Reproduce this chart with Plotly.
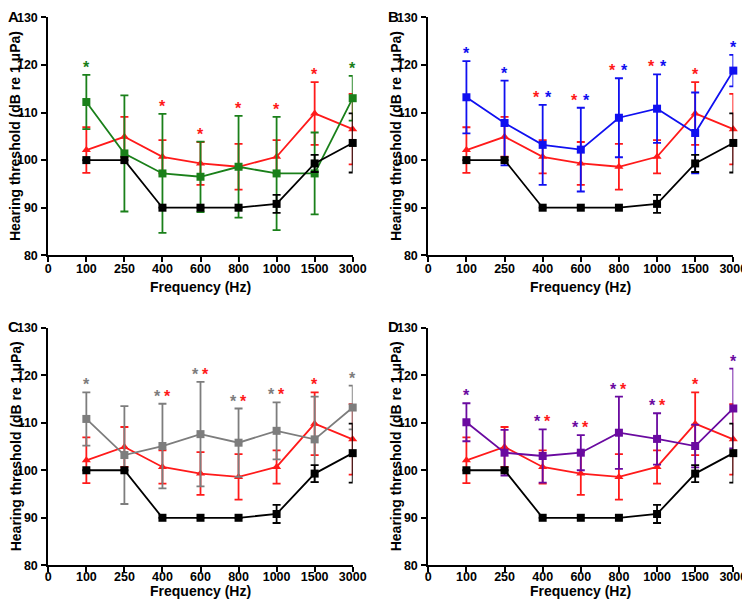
import plotly.graph_objects as go

# ---------------- data ----------------
freq_labels = ["0", "100", "250", "400", "600", "800", "1000", "1500", "3000"]
freq_pos = [1, 2, 3, 4, 5, 6, 7, 8]

control_mean = [100.0, 100.0, 90.0, 90.0, 90.0, 90.8, 99.3, 103.6]
control_err = [0, 0, 0, 0, 0, 1.9, 1.8, 6.2]

red_mean = [102.1, 104.9, 100.7, 99.3, 98.6, 100.7, 109.8, 106.5]
red_err = [4.8, 4.2, 3.5, 4.5, 4.8, 3.5, 6.6, 7.4]

green_mean = [112.2, 101.4, 97.2, 96.5, 98.6, 97.2, 97.2, 113.0]
green_err = [5.7, 12.2, 12.5, 7.4, 10.7, 11.9, 8.6, 4.7]

blue_mean = [113.2, 107.8, 103.2, 102.2, 108.9, 110.8, 105.7, 118.8]
blue_err = [7.6, 8.9, 8.4, 8.8, 8.3, 7.2, 8.5, 3.3]

gray_mean = [110.8, 103.2, 105.1, 107.6, 105.8, 108.3, 106.5, 113.2]
gray_err = [5.6, 10.3, 8.9, 11.0, 7.2, 6.0, 9.0, 4.6]

purple_mean = [110.1, 103.7, 103.0, 103.7, 107.9, 106.6, 105.1, 113.0]
purple_err = [4.0, 4.8, 5.6, 3.7, 7.6, 5.4, 4.5, 8.4]

red_sig = [0, 0, 1, 1, 1, 1, 1, 0]
green_sig = [1, 0, 0, 0, 0, 0, 0, 1]
blue_sig = [1, 1, 1, 1, 1, 1, 0, 1]
gray_sig = [1, 0, 1, 1, 1, 1, 0, 1]
purple_sig = [1, 0, 1, 1, 1, 1, 0, 1]

y_ticks = [80, 90, 100, 110, 120, 130]

# ---------------- styles ----------------
FONT = "Arial, Liberation Sans, sans-serif"
C_BLACK = "#000000"
C_RED = "#ff1a1a"
C_GREEN = "#1a801a"
C_BLUE = "#1010f0"
C_GRAY = "#7d7d7d"
C_PURPLE = "#6a0aa0"

panels = [
    dict(letter="A", mean=green_mean, err=green_err, sig=green_sig, color=C_GREEN, red_first=False),
    dict(letter="B", mean=blue_mean, err=blue_err, sig=blue_sig, color=C_BLUE, red_first=True),
    dict(letter="C", mean=gray_mean, err=gray_err, sig=gray_sig, color=C_GRAY, red_first=False),
    dict(letter="D", mean=purple_mean, err=purple_err, sig=purple_sig, color=C_PURPLE, red_first=False),
]

W, H = 750, 606
xdoms = [(40.3, 344.7), (420.3, 725.3)]
ydoms = [(9.3, 247.3), (319.7, 557.3)]
xtitle_gap = [32, 26]
xlabel_standoff = [-4, -6]

fig = go.Figure()
annotations = []


def series(xa, ya, mean, err, color, symbol, size):
    return go.Scatter(
        x=freq_pos, y=mean, xaxis=xa, yaxis=ya, mode="lines+markers",
        line=dict(color=color, width=1.8),
        marker=dict(symbol=symbol, size=size, color=color, line=dict(width=0)),
        error_y=dict(type="data", array=err, visible=True, color=color,
                     thickness=1.8, width=4),
        cliponaxis=False, showlegend=False, hoverinfo="skip",
    )


for i, p in enumerate(panels):
    col, row = i % 2, i // 2
    n = "" if i == 0 else str(i + 1)
    xa, ya = "x" + n, "y" + n
    x0, x1 = xdoms[col]
    yt, yb = ydoms[row]

    fig.add_trace(series(xa, ya, red_mean, red_err, C_RED, "triangle-up", 8))
    fig.add_trace(series(xa, ya, p["mean"], p["err"], p["color"], "square", 8))
    fig.add_trace(series(xa, ya, control_mean, control_err, C_BLACK, "square", 8))

    axis_common = dict(
        showline=True, linecolor="black", linewidth=2, ticks="outside",
        ticklen=5, tickwidth=2, tickcolor="black", showgrid=False,
        zeroline=False, automargin=False,
        tickfont=dict(family=FONT, size=12.5, color="black", weight="bold"),
    )
    fig.update_layout({
        "xaxis" + n: dict(domain=[x0 / W, x1 / W], anchor=ya, range=[0, 8],
                          tickmode="array", tickvals=list(range(9)), ticktext=freq_labels,
                          ticklabelstandoff=xlabel_standoff[row], **axis_common),
        "yaxis" + n: dict(domain=[1 - yb / H, 1 - yt / H], anchor=xa, range=[80, 130],
                          tickmode="array", tickvals=y_ticks, ticklabelstandoff=1,
                          **axis_common),
    })

    others = [p["mean"][k] + p["err"][k] for k in range(8)]
    reds = [red_mean[k] + red_err[k] for k in range(8)]
    ctrl = [control_mean[k] + control_err[k] for k in range(8)]
    for k in range(8):
        sy = max(others[k], reds[k], ctrl[k]) + 2.2
        marks = []
        if p["sig"][k] and red_sig[k]:
            if p["red_first"]:
                marks = [(C_RED, -6), (p["color"], 6)]
            else:
                marks = [(p["color"], -5), (C_RED, 5)]
        elif p["sig"][k]:
            marks = [(p["color"], 0)]
        elif red_sig[k]:
            marks = [(C_RED, 0)]
        for c, dx in marks:
            annotations.append(dict(
                x=freq_pos[k], y=sy, xref=xa, yref=ya, text="*", showarrow=False,
                xshift=dx, yshift=-3, xanchor="center", yanchor="middle",
                font=dict(family=FONT, size=16, color=c, weight="bold"),
            ))

    annotations.append(dict(
        x=(x0 + x1) / 2 / W, y=1 - (yb + xtitle_gap[row]) / H, xref="paper", yref="paper",
        text="Frequency (Hz)", showarrow=False, xanchor="center", yanchor="middle",
        font=dict(family=FONT, size=14, color="black", weight="bold"),
    ))
    annotations.append(dict(
        x=(x0 - 32.5) / W, y=1 - (yt + yb) / 2 / H, xref="paper", yref="paper",
        text="Hearing threshold (dB re 1 \u03bcPa)", showarrow=False, textangle=-90,
        xanchor="center", yanchor="middle",
        font=dict(family=FONT, size=14, color="black", weight="bold"),
    ))
    annotations.append(dict(
        x=(x0 - 35) / W, y=1 - (yt - 1.3) / H, xref="paper", yref="paper",
        text=p["letter"], showarrow=False, xanchor="center", yanchor="middle",
        font=dict(family=FONT, size=15, color="black", weight="bold"),
    ))

fig.update_layout(
    width=W, height=H, autosize=False,
    margin=dict(l=0, r=0, t=0, b=0, autoexpand=False),
    paper_bgcolor="white", plot_bgcolor="white",
    annotations=annotations, showlegend=False,
)

fig.write_html("out.html")
